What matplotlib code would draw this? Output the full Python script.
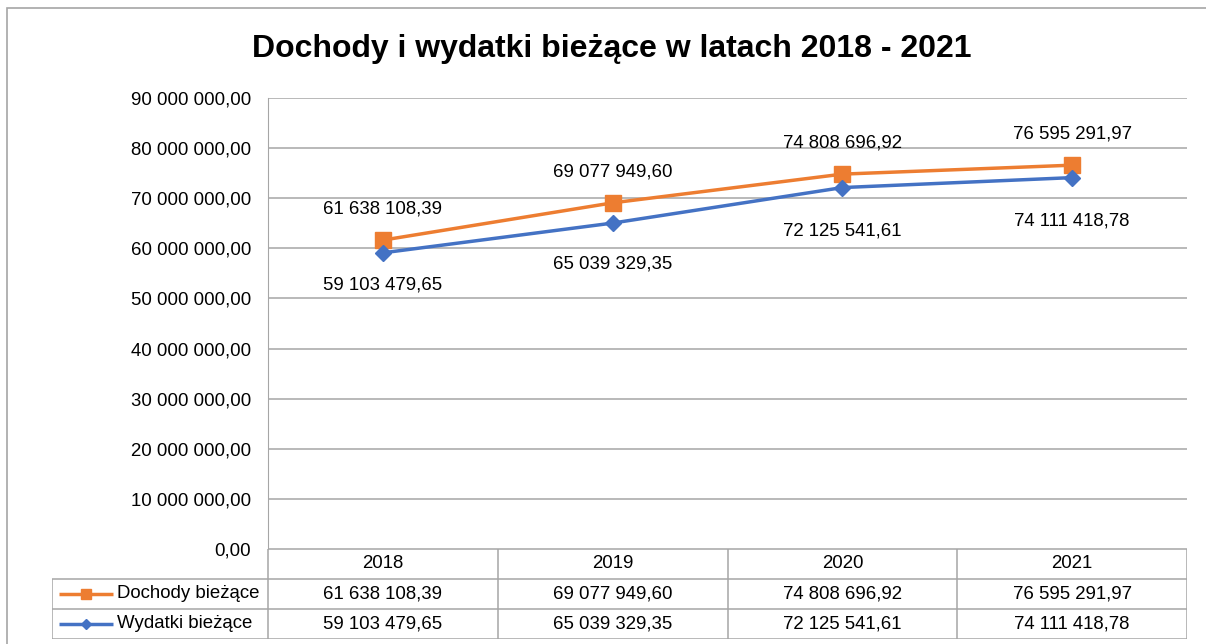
import numpy as np
import matplotlib
matplotlib.use('Agg')
import matplotlib.pyplot as plt
from matplotlib.patches import Rectangle

plt.rcParams['font.family'] = ['Liberation Sans', 'DejaVu Sans']

# data
years = ['2018', '2019', '2020', '2021']
series_names = ['Dochody bieżące', 'Wydatki bieżące']
dochody = [61638108.39, 69077949.60, 74808696.92, 76595291.97]
wydatki = [59103479.65, 65039329.35, 72125541.61, 74111418.78]
yticks = [0, 10e6, 20e6, 30e6, 40e6, 50e6, 60e6, 70e6, 80e6, 90e6]

ORANGE = '#ED7D31'
BLUE = '#4472C4'
GRID = '#A6A6A6'
FS = 13.4

def fmt(v):
    s = '{:,.2f}'.format(v)
    return s.replace(',', ' ').replace('.', ',')

W, H = 1206, 644
fig = plt.figure(figsize=(W / 100, H / 100), dpi=100)

# outer chart frame
fig.patches.append(Rectangle((7 / W, -0.1), 1.2, 1.1 - 8 / H, transform=fig.transFigure,
                             fill=False, edgecolor=GRID, linewidth=1.2))

fig.text(0.507, 1 - 49 / H, 'Dochody i wydatki bieżące w latach 2018 - 2021',
         ha='center', va='center', fontsize=23, fontweight='bold')

# main plot area
ax = fig.add_axes([268 / W, (H - 549) / H, 919 / W, 451 / H])
x = np.arange(len(years)) + 0.5
ax.set_xlim(0, len(years))
ax.set_ylim(0, 90e6)
ax.set_yticks(yticks)
ax.set_yticklabels([fmt(v) for v in yticks], fontsize=FS)
ax.set_xticks([])
ax.tick_params(axis='y', length=0, pad=12.3)
for s in ['top', 'right', 'bottom']:
    ax.spines[s].set_visible(False)
ax.spines['left'].set_color(GRID)
ax.yaxis.grid(True, color=GRID, linewidth=1.1)
ax.set_axisbelow(True)

ax.plot(x, dochody, color=ORANGE, lw=2.5, marker='s', ms=11, zorder=3)
ax.plot(x, wydatki, color=BLUE, lw=2.5, marker='D', ms=8.3, zorder=3)

up_off = [22.5, 22.5, 22.5, 22.5]
down_off = [23, 29.5, 31, 31]
for i in range(len(years)):
    ax.annotate(fmt(dochody[i]), (x[i], dochody[i]), xytext=(0, up_off[i]),
                textcoords='offset points', ha='center', va='center', fontsize=FS)
    ax.annotate(fmt(wydatki[i]), (x[i], wydatki[i]), xytext=(0, -down_off[i]),
                textcoords='offset points', ha='center', va='center', fontsize=FS)

# data table below
px = 229.75
leg_w = (268 - 52) / px
tax = fig.add_axes([52 / W, (H - 639) / H, (1187 - 52) / W, 90 / H])
tax.set_xlim(-leg_w, len(years))
tax.set_ylim(3, 0)
tax.axis('off')

lkw = dict(color=GRID, lw=1.1, solid_capstyle='butt')
# horizontal lines
tax.plot([0, len(years)], [0, 0], **lkw)
for r in [1, 2, 3]:
    tax.plot([-leg_w, len(years)], [r, r], **lkw)
# vertical lines
for c in range(len(years) + 1):
    tax.plot([c, c], [0, 3], **lkw)
tax.plot([-leg_w, -leg_w], [1, 3], **lkw)

for i, yr in enumerate(years):
    tax.text(i + 0.5, 0.5, yr, ha='center', va='center', fontsize=FS)
    tax.text(i + 0.5, 1.5, fmt(dochody[i]), ha='center', va='center', fontsize=FS)
    tax.text(i + 0.5, 2.5, fmt(wydatki[i]), ha='center', va='center', fontsize=FS)

# legend keys inside the table
lx0 = -leg_w + 7 / px
lx1 = -leg_w + 61 / px
tax.plot([lx0, lx1], [1.5, 1.5], color=ORANGE, lw=2.5, solid_capstyle='butt')
tax.plot([(lx0 + lx1) / 2], [1.5], color=ORANGE, marker='s', ms=6.5)
tax.plot([lx0, lx1], [2.5, 2.5], color=BLUE, lw=2.5, solid_capstyle='butt')
tax.plot([(lx0 + lx1) / 2], [2.5], color=BLUE, marker='D', ms=5)
for r, name in enumerate(series_names):
    tax.text(-leg_w + 65 / px, r + 1.5, name, ha='left', va='center', fontsize=FS)

fig.savefig('out.png', dpi=100)
